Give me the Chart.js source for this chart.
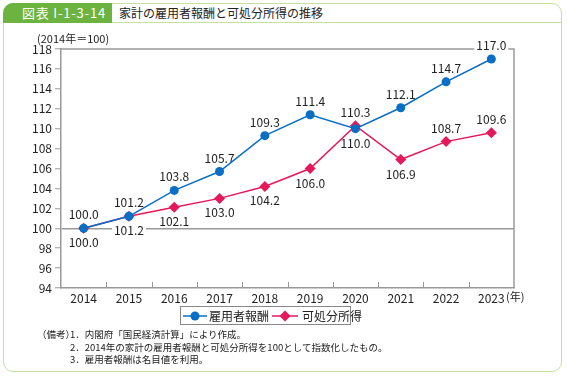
<!DOCTYPE html>
<html><head><meta charset="utf-8">
<script src="https://cdn.jsdelivr.net/npm/chart.js@4/dist/chart.umd.min.js"></script>
<style>
html,body{margin:0;padding:0;background:#fff;}
body{width:567px;height:377px;position:relative;overflow:hidden;font-family:"Noto Sans CJK JP","Noto Sans",sans-serif;color:#222;}
#frame{position:absolute;left:3px;top:3px;width:557px;height:367px;border:1.5px solid #c4e29f;border-radius:10px;}
#hdrline{position:absolute;left:3px;top:22px;width:559px;height:0;border-top:1.5px solid #c4e29f;}
#tag{position:absolute;left:3px;top:3px;width:109px;height:20px;background:#6cb33f;color:#fff;font-size:13px;line-height:20px;padding-left:19px;letter-spacing:0.8px;box-sizing:border-box;border-top-left-radius:10px;white-space:nowrap;}
#title{position:absolute;left:119px;top:3px;height:20px;line-height:20px;font-size:12px;color:#222;white-space:nowrap;}
#ytitle{position:absolute;left:37px;top:31px;font-size:11px;line-height:14px;color:#222;white-space:nowrap;}
#nen{position:absolute;left:506px;top:289px;font-size:11px;line-height:14px;color:#222;}
#cv{position:absolute;left:0;top:0;}
#legend{position:absolute;left:180px;top:306px;width:171px;height:19px;border:1px solid #888;box-sizing:border-box;font-size:12px;line-height:17px;white-space:nowrap;}
#legend span{position:absolute;top:0;}
#legend svg{position:absolute;top:2px;}
#notes{position:absolute;left:37px;top:328px;width:520px;font-size:9.5px;line-height:12.5px;color:#222;white-space:nowrap;}
#notes .row{position:relative;height:12.5px;}
#notes .n{position:absolute;left:33px;top:0;white-space:nowrap;}
</style></head>
<body>
<div id="frame"></div>
<div id="hdrline"></div>
<div id="tag">図表 I-1-3-14</div>
<div id="title">家計の雇用者報酬と可処分所得の推移</div>
<canvas id="cv" width="567" height="310"></canvas>
<div id="ytitle">(2014年＝100)</div>
<div id="nen">(年)</div>
<div id="legend">
  <svg style="left:2px" width="24" height="14"><line x1="0" y1="7" x2="24" y2="7" stroke="#0a6ec4" stroke-width="1.5"/><circle cx="12" cy="7" r="4.5" fill="#0a6ec4"/></svg>
  <span style="left:28px">雇用者報酬</span>
  <svg style="left:91px" width="26" height="14"><line x1="0" y1="7" x2="26" y2="7" stroke="#e5195a" stroke-width="1.5"/><polygon points="13,1.5 18.5,7 13,12.5 7.5,7" fill="#e5195a"/></svg>
  <span style="left:121px">可処分所得</span>
</div>
<div id="notes">
  <div class="row">（備考）<span class="n">1．内閣府「国民経済計算」により作成。</span></div>
  <div class="row"><span class="n">2．2014年の家計の雇用者報酬と可処分所得を100として指数化したもの。</span></div>
  <div class="row"><span class="n">3．雇用者報酬は名目値を利用。</span></div>
</div>
<script>
const years = ['2014','2015','2016','2017','2018','2019','2020','2021','2022','2023'];
const compensation = [100.0, 101.2, 103.8, 105.7, 109.3, 111.4, 110.0, 112.1, 114.7, 117.0];
const disposable = [100.0, 101.2, 102.1, 103.0, 104.2, 106.0, 110.3, 106.9, 108.7, 109.6];
// label side: 1 = above, -1 = below
const compensationLabelSide = [1, 1, 1, 1, 1, 1, -1, 1, 1, 1];
const disposableLabelSide = [-1, -1, -1, -1, -1, -1, 1, -1, 1, 1];
const seriesNames = ['雇用者報酬', '可処分所得'];

const BLUE = '#0a6ec4', PINK = '#e5195a', AX = '#9a9a9a';
const FAM = '"Liberation Sans Narrow","Noto Sans CJK JP",sans-serif';
const numFont = '12px ' + FAM;

const framePlugin = {
  id: 'framePlugin',
  beforeDatasetsDraw(chart) {
    const {ctx, chartArea: a, scales} = chart;
    ctx.save();
    ctx.strokeStyle = AX; ctx.lineWidth = 1.5;
    ctx.beginPath();
    ctx.moveTo(a.left, a.top); ctx.lineTo(a.right, a.top); ctx.lineTo(a.right, a.bottom);
    ctx.stroke();
    const x = scales.x, n = years.length;
    ctx.lineWidth = 1;
    for (let i = 1; i < n; i++) {
      const px = Math.round((x.getPixelForValue(i - 1) + x.getPixelForValue(i)) / 2) + 0.5;
      ctx.beginPath(); ctx.moveTo(px, a.bottom); ctx.lineTo(px, a.bottom - 6); ctx.stroke();
    }
    ctx.font = numFont; ctx.textAlign = 'center'; ctx.textBaseline = 'middle';
    const sides = [compensationLabelSide, disposableLabelSide];
    chart.data.datasets.forEach((ds, di) => {
      const meta = chart.getDatasetMeta(di);
      meta.data.forEach((pt, i) => {
        const txt = ds.data[i].toFixed(1);
        const ly = pt.y - sides[di][i] * 14;
        const w = ctx.measureText(txt).width;
        ctx.fillStyle = '#fff';
        ctx.fillRect(pt.x - w / 2 - 2, ly - 6, w + 4, 12);
        ctx.fillStyle = '#222';
        ctx.fillText(txt, pt.x, ly + 0.5);
      });
    });
    ctx.restore();
  }
};

new Chart(document.getElementById('cv'), {
  type: 'line',
  data: {
    labels: years,
    datasets: [
      {label: seriesNames[0], data: compensation, borderColor: BLUE, backgroundColor: BLUE,
       borderWidth: 1.5, pointStyle: 'circle', pointRadius: 4.5, pointBorderWidth: 0, tension: 0},
      {label: seriesNames[1], data: disposable, borderColor: PINK, backgroundColor: PINK,
       borderWidth: 1.5, pointStyle: 'rectRot', pointRadius: 5.5, pointBorderWidth: 0, tension: 0}
    ]
  },
  options: {
    responsive: false, animation: false, events: [],
    layout: {padding: {left: 0, right: 53, top: 49, bottom: 0}},
    plugins: {legend: {display: false}, tooltip: {enabled: false}},
    scales: {
      x: {
        offset: true,
        grid: {display: false, drawTicks: false},
        border: {display: true, color: AX, width: 1.5},
        ticks: {font: {size: 12, family: FAM}, color: '#222', padding: 3, maxRotation: 0},
        afterFit(s) { s.height = 22; }
      },
      y: {
        min: 94, max: 118,
        grid: {
          color: c => (c.tick && (c.tick.value === 100)) ? AX : 'transparent',
          lineWidth: 1.5, tickColor: AX, tickLength: 6, tickWidth: 1
        },
        border: {display: true, color: AX, width: 1.5},
        ticks: {stepSize: 2, font: {size: 12, family: FAM}, color: '#222', padding: 3},
        afterFit(s) { s.width = 61; }
      }
    }
  },
  plugins: [framePlugin]
});
</script>
</body></html>
